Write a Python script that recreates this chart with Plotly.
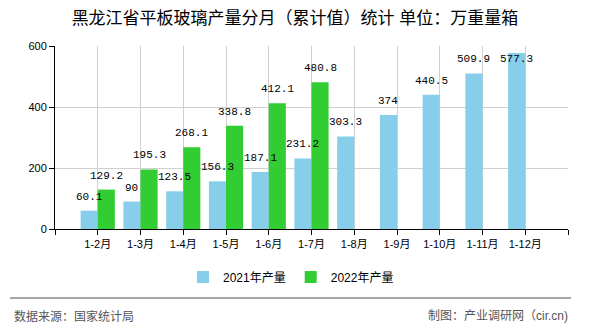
import plotly.graph_objects as go

categories = ["1-2月", "1-3月", "1-4月", "1-5月", "1-6月", "1-7月", "1-8月", "1-9月", "1-10月", "1-11月", "1-12月"]
values_2021 = [60.1, 90, 123.5, 156.3, 187.1, 231.2, 303.3, 374, 440.5, 509.9, 577.3]
values_2022 = [129.2, 195.3, 268.1, 338.8, 412.1, 480.8, None, None, None, None, None]
series_names = ["2021年产量", "2022年产量"]
colors = ["#87CEEB", "#32CD32"]
title_text = "黑龙江省平板玻璃产量分月（累计值）统计 单位：万重量箱"
source_text = "数据来源：国家统计局"
credit_text = "制图：产业调研网（cir.cn)"

W, H = 590, 330
L, R, T, B = 55, 22, 46, 101
plot_h = H - T - B
plot_w = W - L - R
y_max = 600
label_cap = y_max * 0.85  # labels are kept inside the plot area

xs = list(range(len(categories)))
cjk = "Liberation Sans, Noto Sans CJK SC, sans-serif"
mono = "Liberation Mono, DejaVu Sans Mono, Noto Sans CJK SC, monospace"

fig = go.Figure()
fig.add_trace(go.Bar(x=xs, y=values_2021, name=series_names[0], marker_color=colors[0],
                     width=0.4, offset=-0.4, marker_line_width=0))
fig.add_trace(go.Bar(x=xs, y=values_2022, name=series_names[1], marker_color=colors[1],
                     width=0.4, offset=0, marker_line_width=0))

annotations = []
for vals, dx in ((values_2021, -0.2), (values_2022, 0.2)):
    for x, v in zip(xs, vals):
        if v is None:
            continue
        annotations.append(dict(x=x + dx, y=min(v, label_cap), xref="x", yref="y", text=f"{v:g}",
                                showarrow=False, yanchor="bottom", yshift=6,
                                font=dict(family=mono, size=11, color="#000")))

annotations.append(dict(x=(12 - L) / plot_w, y=(H - B - 316) / plot_h, xref="paper", yref="paper",
                        text=source_text, showarrow=False, xanchor="left", yanchor="middle",
                        font=dict(family=cjk, size=12, color="#555")))
annotations.append(dict(x=(570 - L) / plot_w, y=(H - B - 316) / plot_h, xref="paper", yref="paper",
                        text=credit_text, showarrow=False, xanchor="right", yanchor="middle",
                        font=dict(family=cjk, size=12, color="#555")))

tickvals = [-1] + xs + [len(categories)]
ticktext = [""] + categories + [""]

fig.update_layout(
    width=W, height=H,
    margin=dict(l=L, r=R, t=T, b=B, pad=0),
    paper_bgcolor="white", plot_bgcolor="white",
    title=dict(text=title_text, x=0.5, xanchor="center", y=1 - 18 / H, yanchor="middle",
               font=dict(family=cjk, size=17, color="#000")),
    xaxis=dict(range=[-1, len(categories)], tickmode="array", tickvals=tickvals, ticktext=ticktext,
               showgrid=True, gridcolor="#d0d0d0", gridwidth=1, showline=True, linecolor="#000", linewidth=1,
               ticks="outside", ticklen=5, tickcolor="#000", zeroline=False,
               tickfont=dict(family=cjk, size=11, color="#000")),
    yaxis=dict(range=[0, y_max], dtick=200, showgrid=True, gridcolor="#d0d0d0", gridwidth=1,
               showline=True, linecolor="#000", linewidth=1, ticks="outside", ticklen=5, tickcolor="#000",
               zeroline=False, tickfont=dict(family=cjk, size=11, color="#000")),
    barmode="overlay",
    showlegend=True,
    legend=dict(orientation="h", x=(291 - L) / plot_w, xanchor="center", y=(H - B - 277) / plot_h,
                yanchor="middle", font=dict(family=cjk, size=12, color="#000"), itemwidth=30,
                bgcolor="rgba(0,0,0,0)"),
    annotations=annotations,
    shapes=[dict(type="line", xref="paper", yref="paper", x0=(10 - L) / plot_w, x1=(571 - L) / plot_w,
                 y0=(H - B - 298) / plot_h, y1=(H - B - 298) / plot_h, line=dict(color="#888", width=1.5))],
)

fig.write_html("out.html")
